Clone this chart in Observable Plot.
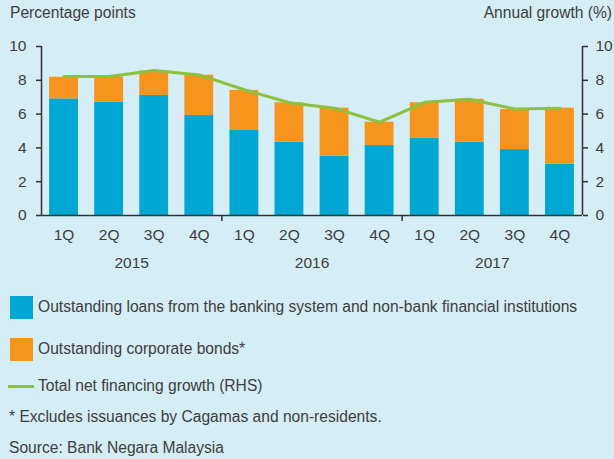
<!DOCTYPE html>
<html>
<head>
<meta charset="utf-8">
<script src="https://cdn.jsdelivr.net/npm/d3@7"></script>
<script src="https://cdn.jsdelivr.net/npm/@observablehq/plot@0.6"></script>
<style>
  html, body { margin: 0; padding: 0; }
  #wrap { position: relative; width: 614px; height: 459px; background: #d5edf5; overflow: hidden;
          font-family: "Liberation Sans", Arial, sans-serif; color: #3d3d3d; font-size: 15.6px; }
  .abs { position: absolute; white-space: nowrap; line-height: 20px; }
  #chart { position: absolute; left: 0; top: 0; }
  .sw { position: absolute; width: 23px; height: 23px; }
</style>
</head>
<body>
<div id="wrap">
  <div id="chart"></div>
  <div class="abs" style="left:10px; top:3px;">Percentage points</div>
  <div class="abs" style="right:2px; top:3px;">Annual growth (%)</div>
  <div class="sw" id="swLoans" style="left:10px; top:296px;"></div>
  <div class="abs" id="lbLoans" style="left:38px; top:297px;"></div>
  <div class="sw" id="swBonds" style="left:10px; top:338px;"></div>
  <div class="abs" id="lbBonds" style="left:38px; top:339px;"></div>
  <div id="lnGrowth" style="position:absolute; left:8px; top:385px; width:26px; height:3px;"></div>
  <div class="abs" id="lbGrowth" style="left:38px; top:376px;"></div>
  <div class="abs" style="left:9px; top:407px;">* Excludes issuances by Cagamas and non-residents.</div>
  <div class="abs" style="left:9px; top:438px;">Source: Bank Negara Malaysia</div>
</div>
<script>
// ---- data ----
const quarters = ["1Q","2Q","3Q","4Q","1Q","2Q","3Q","4Q","1Q","2Q","3Q","4Q"];
const years = ["2015","2016","2017"];
const loans  = [6.90, 6.70, 7.10, 5.92, 5.03, 4.34, 3.51, 4.14, 4.58, 4.34, 3.90, 3.04];
const bonds  = [1.28, 1.50, 1.45, 2.38, 2.37, 2.33, 2.84, 1.38, 2.09, 2.54, 2.37, 3.31];
const growth = [8.22, 8.22, 8.58, 8.32, 7.44, 6.67, 6.35, 5.52, 6.70, 6.88, 6.30, 6.35];
const yTicks = [0, 2, 4, 6, 8, 10];
const seriesNames = {
  loans: "Outstanding loans from the banking system and non-bank financial institutions",
  bonds: "Outstanding corporate bonds*",
  growth: "Total net financing growth (RHS)"
};

// ---- style ----
const colors = { loans: "#00a7d3", bonds: "#f7941e", growth: "#8cc03f" };
const halfBar = 0.32;
const axisColor = "#333";
const labelColor = "#3d3d3d";
const fs = 15.5;

const data = quarters.map((q, i) => ({ i, q, loans: loans[i], bonds: bonds[i], total: loans[i] + bonds[i], growth: growth[i] }));
const perYear = quarters.length / years.length;
const yearLabels = years.map((y, k) => ({ year: y, x: k * perYear + (perYear - 1) / 2 }));
const separators = years.slice(1).map((_, k) => (k + 1) * perYear - 0.5);
const xDomain = [-0.5, quarters.length - 0.5];

const chart = Plot.plot({
  width: 614,
  height: 280,
  marginTop: 46,
  marginBottom: 65,
  marginLeft: 41,
  marginRight: 32,
  style: { background: "transparent", color: axisColor, fontFamily: "Liberation Sans, Arial, sans-serif", fontSize: fs + "px" },
  x: { domain: xDomain, type: "linear" },
  y: { domain: [0, 10] },
  marks: [
    Plot.rect(data, { x1: d => d.i - halfBar, x2: d => d.i + halfBar, y1: () => 0, y2: "loans", fill: colors.loans }),
    Plot.rect(data, { x1: d => d.i - halfBar, x2: d => d.i + halfBar, y1: "loans", y2: "total", fill: colors.bonds }),
    Plot.line(data, { x: "i", y: "growth", stroke: colors.growth, strokeWidth: 3 }),
    Plot.ruleY([0], { stroke: axisColor, strokeWidth: 1.5 }),
    Plot.ruleX([xDomain[0]], { stroke: axisColor, strokeWidth: 1.5 }),
    Plot.ruleX([xDomain[1]], { stroke: axisColor, strokeWidth: 1.5 }),
    Plot.axisY({ anchor: "left", ticks: yTicks, tickSize: 5, tickPadding: 10, fontSize: fs, stroke: axisColor, strokeWidth: 1.5, fill: labelColor }),
    Plot.axisY({ anchor: "right", ticks: yTicks, tickSize: 5, tickPadding: 8, fontSize: fs, stroke: axisColor, strokeWidth: 1.5, fill: labelColor }),
    Plot.axisX({ ticks: data.map(d => d.i), tickFormat: i => quarters[i], tickSize: 0, tickPadding: 13, fontSize: fs, fill: labelColor }),
    Plot.axisX({ ticks: separators, tickFormat: () => "", tickSize: 6, stroke: axisColor, strokeWidth: 1.5 }),
    Plot.text(yearLabels, { x: "x", text: "year", frameAnchor: "bottom", dy: 52, fontSize: fs, fill: labelColor })
  ]
});
document.getElementById("chart").appendChild(chart);

document.getElementById("swLoans").style.background = colors.loans;
document.getElementById("swBonds").style.background = colors.bonds;
document.getElementById("lnGrowth").style.background = colors.growth;
document.getElementById("lbLoans").textContent = seriesNames.loans;
document.getElementById("lbBonds").textContent = seriesNames.bonds;
document.getElementById("lbGrowth").textContent = seriesNames.growth;
</script>
</body>
</html>
